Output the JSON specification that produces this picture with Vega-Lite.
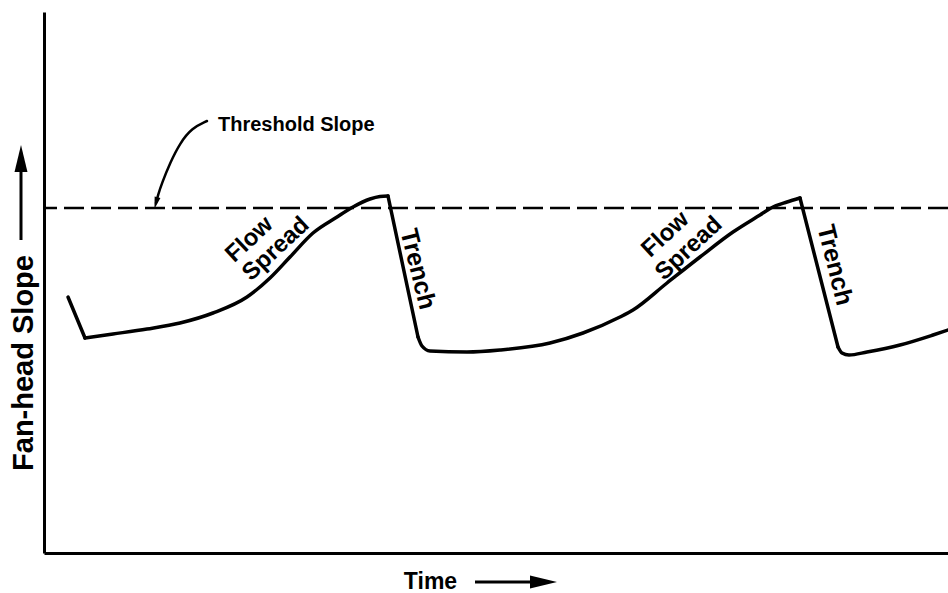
{
  "$schema": "https://vega.github.io/schema/vega-lite/v6.json",
  "width": 904,
  "height": 541,
  "autosize": "none",
  "padding": {"left": 44, "top": 12, "right": 0, "bottom": 40},
  "background": "white",
  "config": {
    "view": {"stroke": null},
    "axis": {"domain": true, "domainColor": "black", "domainWidth": 3, "ticks": false, "labels": false, "grid": false, "title": null}
  },
  "layer": [
    {
      "data": {"values": [
        {"seg": "a", "t": 24, "s": 256}, {"seg": "a", "t": 41, "s": 215},
        {"seg": "b", "t": 41, "s": 215}, {"seg": "b", "t": 69, "s": 219}, {"seg": "b", "t": 103, "s": 224},
        {"seg": "b", "t": 136, "s": 230}, {"seg": "b", "t": 169, "s": 240}, {"seg": "b", "t": 203, "s": 256},
        {"seg": "b", "t": 226, "s": 275}, {"seg": "b", "t": 246, "s": 296}, {"seg": "b", "t": 269, "s": 320},
        {"seg": "b", "t": 293, "s": 336}, {"seg": "b", "t": 309, "s": 346}, {"seg": "b", "t": 326, "s": 354},
        {"seg": "b", "t": 336, "s": 356.5}, {"seg": "b", "t": 344, "s": 357},
        {"seg": "c", "t": 344, "s": 357}, {"seg": "c", "t": 374, "s": 216},
        {"seg": "d", "t": 374, "s": 216}, {"seg": "d", "t": 378, "s": 207}, {"seg": "d", "t": 386, "s": 202},
        {"seg": "d", "t": 423, "s": 201}, {"seg": "d", "t": 456, "s": 203}, {"seg": "d", "t": 506, "s": 210},
        {"seg": "d", "t": 539, "s": 220}, {"seg": "d", "t": 576, "s": 236}, {"seg": "d", "t": 589, "s": 243},
        {"seg": "d", "t": 623, "s": 270}, {"seg": "d", "t": 656, "s": 296}, {"seg": "d", "t": 689, "s": 321},
        {"seg": "d", "t": 716, "s": 338}, {"seg": "d", "t": 729, "s": 346}, {"seg": "d", "t": 743, "s": 351},
        {"seg": "d", "t": 756, "s": 355},
        {"seg": "e", "t": 756, "s": 355}, {"seg": "e", "t": 794, "s": 206},
        {"seg": "f", "t": 794, "s": 206}, {"seg": "f", "t": 798, "s": 200}, {"seg": "f", "t": 805, "s": 198},
        {"seg": "f", "t": 823, "s": 201}, {"seg": "f", "t": 856, "s": 208}, {"seg": "f", "t": 889, "s": 218},
        {"seg": "f", "t": 904, "s": 223}
      ]},
      "mark": {"type": "line", "color": "black", "strokeWidth": 3.5, "strokeJoin": "round", "strokeCap": "round", "interpolate": "monotone"},
      "encoding": {
        "x": {"field": "t", "type": "quantitative", "scale": {"domain": [0, 904], "nice": false, "zero": false}, "axis": {"orient": "bottom"}},
        "y": {"field": "s", "type": "quantitative", "scale": {"domain": [0, 541], "nice": false, "zero": false}, "axis": {"orient": "left"}},
        "detail": {"field": "seg", "type": "nominal"}
      }
    },
    {
      "data": {"values": [{"s": 345}]},
      "mark": {"type": "rule", "color": "black", "strokeWidth": 2.5, "strokeDash": [20, 7]},
      "encoding": {"y": {"field": "s", "type": "quantitative"}}
    },
    {
      "data": {"values": [
        {"i": 1, "t": 163, "s": 432}, {"i": 2, "t": 148, "s": 425}, {"i": 3, "t": 136, "s": 410},
        {"i": 4, "t": 126, "s": 390}, {"i": 5, "t": 118, "s": 370}, {"i": 6, "t": 114, "s": 358}, {"i": 7, "t": 112, "s": 350}
      ]},
      "mark": {"type": "line", "color": "black", "strokeWidth": 2.5, "strokeCap": "round", "interpolate": "basis"},
      "encoding": {
        "x": {"field": "t", "type": "quantitative"},
        "y": {"field": "s", "type": "quantitative"},
        "order": {"field": "i", "type": "quantitative"}
      }
    },
    {
      "data": {"values": [{"t": 112, "s": 350}]},
      "mark": {"type": "point", "shape": "M0,1L0.5,-1L-0.5,-1Z", "filled": true, "color": "black", "opacity": 1, "size": 144, "angle": 15},
      "encoding": {
        "x": {"field": "t", "type": "quantitative"},
        "y": {"field": "s", "type": "quantitative"}
      }
    },
    {
      "data": {"values": [{"t": -23, "s": 313, "s2": 385}]},
      "mark": {"type": "rule", "color": "black", "strokeWidth": 3},
      "encoding": {
        "x": {"field": "t", "type": "quantitative"},
        "y": {"field": "s", "type": "quantitative"},
        "y2": {"field": "s2"}
      }
    },
    {
      "data": {"values": [{"t": -23, "s": 394.5}]},
      "mark": {"type": "point", "shape": "M0,-1L0.48,1L-0.48,1Z", "filled": true, "color": "black", "opacity": 1, "size": 729},
      "encoding": {
        "x": {"field": "t", "type": "quantitative"},
        "y": {"field": "s", "type": "quantitative"}
      }
    },
    {
      "data": {"values": [{"t": 431, "t2": 489, "s": -29}]},
      "mark": {"type": "rule", "color": "black", "strokeWidth": 3},
      "encoding": {
        "x": {"field": "t", "type": "quantitative"},
        "x2": {"field": "t2"},
        "y": {"field": "s", "type": "quantitative"}
      }
    },
    {
      "data": {"values": [{"t": 499.5, "s": -29}]},
      "mark": {"type": "point", "shape": "M1,0L-1,0.48L-1,-0.48Z", "filled": true, "color": "black", "opacity": 1, "size": 729},
      "encoding": {
        "x": {"field": "t", "type": "quantitative"},
        "y": {"field": "s", "type": "quantitative"}
      }
    },
    {
      "data": {"values": [{"t": 174, "s": 422, "label": "Threshold Slope"}]},
      "mark": {"type": "text", "font": "Liberation Sans", "fontWeight": "bold", "fontSize": 20, "align": "left", "baseline": "alphabetic", "color": "black"},
      "encoding": {
        "x": {"field": "t", "type": "quantitative"},
        "y": {"field": "s", "type": "quantitative"},
        "text": {"field": "label"}
      }
    },
    {
      "data": {"values": [{"t": 386.5, "s": -36, "label": "Time"}]},
      "mark": {"type": "text", "font": "Liberation Sans", "fontWeight": "bold", "fontSize": 23, "align": "center", "baseline": "alphabetic", "color": "black"},
      "encoding": {
        "x": {"field": "t", "type": "quantitative"},
        "y": {"field": "s", "type": "quantitative"},
        "text": {"field": "label"}
      }
    },
    {
      "data": {"values": [{"t": -11, "s": 190, "label": "Fan-head Slope"}]},
      "mark": {"type": "text", "font": "Liberation Sans", "fontWeight": "bold", "fontSize": 29, "align": "center", "baseline": "alphabetic", "angle": 270, "color": "black"},
      "encoding": {
        "x": {"field": "t", "type": "quantitative"},
        "y": {"field": "s", "type": "quantitative"},
        "text": {"field": "label"}
      }
    },
    {
      "data": {"values": [
        {"t": 205.5, "s": 313.5, "label": "Flow"},
        {"t": 232, "s": 304, "label": "Spread"},
        {"t": 621.5, "s": 318.5, "label": "Flow"},
        {"t": 645, "s": 304.5, "label": "Spread"}
      ]},
      "mark": {"type": "text", "font": "Liberation Sans", "fontWeight": "bold", "fontSize": 24, "align": "center", "baseline": "middle", "angle": 317, "color": "black"},
      "encoding": {
        "x": {"field": "t", "type": "quantitative"},
        "y": {"field": "s", "type": "quantitative"},
        "text": {"field": "label"}
      }
    },
    {
      "data": {"values": [
        {"t": 374, "s": 284, "label": "Trench"},
        {"t": 791, "s": 288, "label": "Trench"}
      ]},
      "mark": {"type": "text", "font": "Liberation Sans", "fontWeight": "bold", "fontSize": 25, "align": "center", "baseline": "middle", "angle": 76, "color": "black"},
      "encoding": {
        "x": {"field": "t", "type": "quantitative"},
        "y": {"field": "s", "type": "quantitative"},
        "text": {"field": "label"}
      }
    }
  ]
}
